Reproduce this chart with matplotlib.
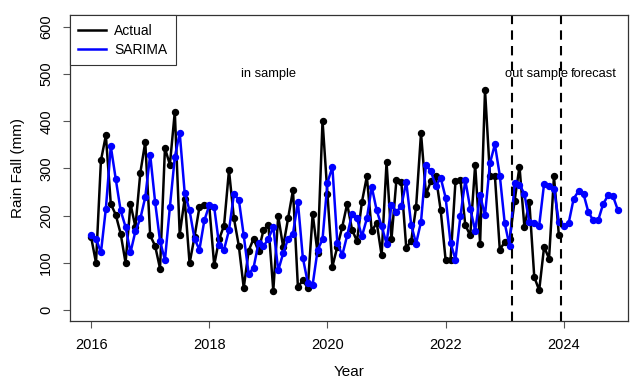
import numpy as np
import matplotlib
matplotlib.use("Agg")
import matplotlib.pyplot as plt
from matplotlib.lines import Line2D

plt.rcParams['font.family'] = ['Liberation Sans', 'DejaVu Sans']

start_year = 2016
actual = [155, 100, 317, 370, 225, 202, 162, 100, 225, 176, 291, 356,
          158, 136, 88, 343, 308, 420, 160, 236, 99, 155, 218, 223,
          220, 95, 150, 179, 296, 195, 136, 47, 126, 151, 125, 169,
          181, 41, 199, 134, 194, 254, 49, 63, 47, 204, 120, 401,
          246, 92, 134, 176, 225, 170, 146, 229, 283, 167, 185, 116,
          313, 150, 275, 272, 132, 146, 218, 375, 245, 273, 284, 211,
          106, 107, 273, 276, 180, 158, 308, 141, 466, 285, 285, 128,
          144, 150, 231, 304, 176, 229, 70, 42, 134, 109, 283, 158]
sarima = [158, 151, 122, 215, 347, 278, 211, 176, 122, 167, 194, 239,
          329, 229, 146, 106, 218, 324, 375, 249, 211, 151, 128, 190,
          222, 218, 138, 128, 169, 245, 234, 158, 76, 90, 142, 135,
          151, 176, 84, 120, 151, 162, 229, 111, 58, 54, 127, 150,
          270, 303, 143, 116, 158, 204, 194, 156, 194, 261, 211, 178,
          141, 223, 208, 220, 272, 181, 141, 187, 308, 294, 263, 280,
          238, 142, 107, 199, 275, 215, 168, 243, 201, 311, 351, 285,
          184, 135, 270, 266, 246, 186, 185, 179, 268, 262, 257, 186,
          178, 185, 236, 252, 246, 207, 190, 191, 225, 243, 241, 211]
split_lines = [2023.125, 2023.958]
x_ticks = [2016, 2018, 2020, 2022, 2024]
y_ticks = [0, 100, 200, 300, 400, 500, 600]

t_act = start_year + np.arange(len(actual)) / 12
t_sar = start_year + np.arange(len(sarima)) / 12

W, H = 638, 383
fig = plt.figure(figsize=(W / 100, H / 100), dpi=100)
L, R, T, B = 70, 628, 15.5, 321.4
ax = fig.add_axes([L / W, 1 - B / H, (R - L) / W, (B - T) / H])

ax.plot(t_act, actual, color='black', lw=1.8, marker='o', ms=4.3, label='Actual')
ax.plot(t_sar, sarima, color='#0000FF', lw=1.8, marker='o', ms=4.3, label='SARIMA')
for v in split_lines:
    ax.axvline(v, color='black', lw=1.5, ls=(0, (4.5, 3)))

ax.set_xlim(2015.643, 2016 + (R - 91) / 59.1)
ax.set_ylim(-24, 624)
ax.set_xticks(x_ticks)
ax.set_yticks(y_ticks)
ax.set_yticklabels([str(v) for v in y_ticks], rotation=90, va='center')
ax.tick_params(axis='both', direction='out', length=5, width=0.8, labelsize=10.5,
               color='#555555')
ax.tick_params(axis='y', pad=7)
ax.tick_params(axis='x', pad=7)
for s in ax.spines.values():
    s.set_color('#333333')
    s.set_linewidth(0.9)

ax.set_xlabel('Year', fontsize=11, labelpad=9)
ax.set_ylabel('Rain Fall (mm)', fontsize=11, labelpad=10)

ax.text(2019.0, 500, 'in sample', ha='center', va='center', fontsize=9.3)
ax.text(2023.54, 500, 'out sample', ha='center', va='center', fontsize=9.3)
ax.text(2024.5, 500, 'forecast', ha='center', va='center', fontsize=9.3)

handles = [Line2D([], [], color='black', lw=1.8), Line2D([], [], color='#0000FF', lw=1.8)]
leg = ax.legend(handles, ['Actual', 'SARIMA'], loc='upper left', bbox_to_anchor=(0, 1),
                borderaxespad=0, fancybox=False, edgecolor='#333333', framealpha=1,
                fontsize=10, handlelength=2.0, handletextpad=0.6, borderpad=0.6,
                labelspacing=0.35)
leg.get_frame().set_linewidth(0.8)

fig.savefig('out.png', dpi=100)
